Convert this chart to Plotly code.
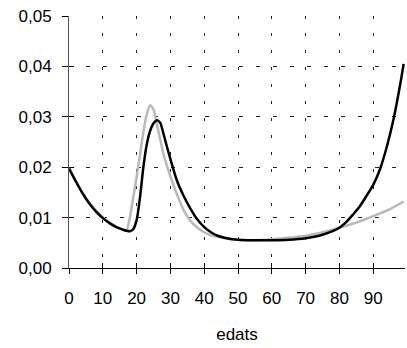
import plotly.graph_objects as go

ages_black = [0, 2, 4, 6, 8, 10, 12, 14, 16, 17, 18, 19, 20, 21, 22, 23, 24, 25, 26, 27, 28, 29, 30,
              32, 34, 36, 38, 40, 42, 44, 46, 50, 55, 60, 65, 70, 74, 78, 80, 82, 84, 86, 88, 90,
              92, 94, 96, 98, 99]
vals_black = [0.0197, 0.0172, 0.0148, 0.0128, 0.0112, 0.0099, 0.0089, 0.0081, 0.0076, 0.0074, 0.0073,
              0.0077, 0.0095, 0.0140, 0.0200, 0.0245, 0.0272, 0.0287, 0.0293, 0.0288, 0.0265, 0.0240,
              0.0216, 0.0172, 0.0142, 0.0117, 0.0096, 0.0081, 0.0071, 0.0064, 0.0060, 0.0056, 0.0055,
              0.0055, 0.0056, 0.0059, 0.0064, 0.0073, 0.0080, 0.0091, 0.0106, 0.0122, 0.0143, 0.0165,
              0.0196, 0.0240, 0.0295, 0.0365, 0.0405]

ages_gray = [0, 2, 4, 6, 8, 10, 12, 14, 16, 17, 18, 19, 20, 21, 22, 23, 24, 25, 26, 27, 28, 30, 32,
             34, 36, 38, 40, 42, 44, 46, 50, 55, 60, 65, 70, 75, 80, 85, 90, 95, 99]
vals_gray = [0.0200, 0.0173, 0.0150, 0.0130, 0.0114, 0.0101, 0.0090, 0.0082, 0.0076, 0.0074, 0.0100,
             0.0140, 0.0180, 0.0225, 0.0270, 0.0305, 0.0323, 0.0315, 0.0285, 0.0255, 0.0225, 0.0182,
             0.0145, 0.0114, 0.0093, 0.0080, 0.0071, 0.0065, 0.0062, 0.0059, 0.0056, 0.0055, 0.0057,
             0.0060, 0.0064, 0.0071, 0.0080, 0.0090, 0.0103, 0.0117, 0.0132]

x_ticks = [0, 10, 20, 30, 40, 50, 60, 70, 80, 90]
y_ticks = [0.00, 0.01, 0.02, 0.03, 0.04, 0.05]
x_title = "edats"

FONT = "Liberation Sans, Arial, sans-serif"
FS = 17

fig = go.Figure()
fig.add_trace(go.Scatter(x=ages_gray, y=vals_gray, mode="lines",
                         line=dict(color="#b8b8b8", width=2.5, shape="spline", smoothing=0.6),
                         showlegend=False))
fig.add_trace(go.Scatter(x=ages_black, y=vals_black, mode="lines",
                         line=dict(color="black", width=2.5, shape="spline", smoothing=0.6),
                         showlegend=False))
# invisible trace on overlay axes for inside ticks
fig.add_trace(go.Scatter(x=[0], y=[0], xaxis="x2", yaxis="y2", mode="markers",
                         marker=dict(opacity=0), showlegend=False, hoverinfo="skip"))

fig.update_layout(
    width=407, height=348,
    margin=dict(l=69, r=2, t=16, b=80),
    paper_bgcolor="white", plot_bgcolor="white",
    separators=",.",
    font=dict(family=FONT, size=FS, color="black"),
    xaxis=dict(range=[0, 99.4], tickvals=x_ticks, ticks="outside", ticklen=5, tickcolor="black",
               showline=True, linecolor="black", linewidth=1,
               showgrid=True, gridcolor="#222", gridwidth=1, griddash="3px,14px",
               zeroline=False, title=dict(text=x_title, standoff=20, font=dict(size=FS)),
               tickfont=dict(size=FS), ticklabelstandoff=10),
    yaxis=dict(range=[0, 0.05], tickvals=y_ticks, tickformat=".2f", ticks="outside", ticklen=6,
               tickcolor="black", showline=True, linecolor="#555", linewidth=1,
               showgrid=True, gridcolor="#222", gridwidth=1, griddash="4px,13px",
               zeroline=False, tickfont=dict(size=FS), ticklabelstandoff=7),
    xaxis2=dict(overlaying="x", range=[0, 99.4], tickvals=x_ticks, ticks="inside", ticklen=5,
                tickcolor="black", showticklabels=False, showgrid=False, zeroline=False,
                anchor="y", side="bottom"),
    yaxis2=dict(overlaying="y", range=[0, 0.05], tickvals=y_ticks, ticks="inside", ticklen=5,
                tickcolor="black", showticklabels=False, showgrid=False, zeroline=False,
                anchor="x", side="left"),
)

fig.write_html("out.html")
